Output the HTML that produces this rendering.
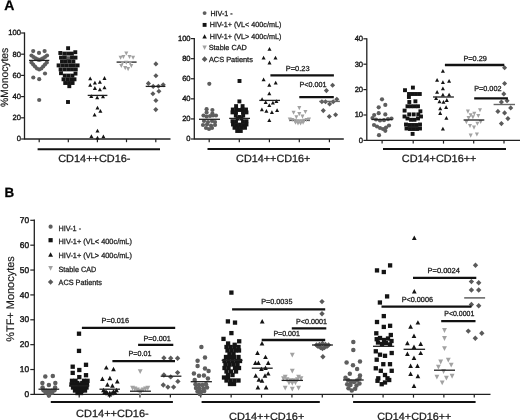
<!DOCTYPE html>
<html><head><meta charset="utf-8"><title>Monocyte subsets figure</title>
<style>
html,body{margin:0;padding:0;background:#fff;}
body{width:520px;height:420px;overflow:hidden;}
svg{display:block;font-family:"Liberation Sans", sans-serif;filter:grayscale(1) blur(0.3px);text-rendering:geometricPrecision;}
text{stroke:#1a1a1a;stroke-width:0.28px;paint-order:stroke;}
</style></head>
<body>
<svg width="520" height="420" viewBox="0 0 520 420">
<rect width="520" height="420" fill="#fff"/>
<text x="4.3" y="10.2" font-size="14" font-weight="bold" fill="#000">A</text>
<text x="4.6" y="197.3" font-size="13.4" font-weight="bold" fill="#000">B</text>
<line x1="24.5" y1="32.4" x2="24.5" y2="139.6" stroke="#202020" stroke-width="1.3"/>
<line x1="21.1" y1="139" x2="24.5" y2="139" stroke="#202020" stroke-width="1.2"/>
<text x="20.9" y="141.36" font-size="7.6" text-anchor="end" fill="#1a1a1a" style="stroke-width:0.38px">0</text>
<line x1="21.1" y1="117.8" x2="24.5" y2="117.8" stroke="#202020" stroke-width="1.2"/>
<text x="20.9" y="120.16" font-size="7.6" text-anchor="end" fill="#1a1a1a" style="stroke-width:0.38px">20</text>
<line x1="21.1" y1="96.6" x2="24.5" y2="96.6" stroke="#202020" stroke-width="1.2"/>
<text x="20.9" y="98.96" font-size="7.6" text-anchor="end" fill="#1a1a1a" style="stroke-width:0.38px">40</text>
<line x1="21.1" y1="75.4" x2="24.5" y2="75.4" stroke="#202020" stroke-width="1.2"/>
<text x="20.9" y="77.76" font-size="7.6" text-anchor="end" fill="#1a1a1a" style="stroke-width:0.38px">60</text>
<line x1="21.1" y1="54.2" x2="24.5" y2="54.2" stroke="#202020" stroke-width="1.2"/>
<text x="20.9" y="56.56" font-size="7.6" text-anchor="end" fill="#1a1a1a" style="stroke-width:0.38px">80</text>
<line x1="21.1" y1="33" x2="24.5" y2="33" stroke="#202020" stroke-width="1.2"/>
<text x="20.9" y="35.36" font-size="7.6" text-anchor="end" fill="#1a1a1a" style="stroke-width:0.38px">100</text>
<line x1="24.5" y1="139" x2="170.5" y2="139" stroke="#202020" stroke-width="1.3"/>
<line x1="39.2" y1="139" x2="39.2" y2="142.2" stroke="#202020" stroke-width="1.2"/>
<line x1="68.3" y1="139" x2="68.3" y2="142.2" stroke="#202020" stroke-width="1.2"/>
<line x1="97.4" y1="139" x2="97.4" y2="142.2" stroke="#202020" stroke-width="1.2"/>
<line x1="126.5" y1="139" x2="126.5" y2="142.2" stroke="#202020" stroke-width="1.2"/>
<line x1="155.8" y1="139" x2="155.8" y2="142.2" stroke="#202020" stroke-width="1.2"/>
<line x1="37.6" y1="149.2" x2="160" y2="149.2" stroke="#111" stroke-width="2.0"/>
<text x="58.2" y="161.5" font-size="10.5" textLength="72.3" lengthAdjust="spacingAndGlyphs" fill="#1a1a1a">CD14++CD16-</text>
<text transform="translate(8.1,106.9) rotate(-90)" font-size="10.6" fill="#1a1a1a" style="stroke-width:0.18px" textLength="59.2" lengthAdjust="spacingAndGlyphs">%Monocytes</text>
<circle cx="33.2" cy="51.1" r="2.1" fill="#5e5e5e"/>
<circle cx="39" cy="52.9" r="2.1" fill="#5e5e5e"/>
<circle cx="44.6" cy="51.1" r="2.1" fill="#5e5e5e"/>
<circle cx="31.5" cy="55.5" r="2.1" fill="#5e5e5e"/>
<circle cx="33.5" cy="57" r="2.1" fill="#5e5e5e"/>
<circle cx="35.5" cy="58.3" r="2.1" fill="#5e5e5e"/>
<circle cx="37.5" cy="59.3" r="2.1" fill="#5e5e5e"/>
<circle cx="39.2" cy="60" r="2.1" fill="#5e5e5e"/>
<circle cx="41" cy="59.3" r="2.1" fill="#5e5e5e"/>
<circle cx="43" cy="58.3" r="2.1" fill="#5e5e5e"/>
<circle cx="45" cy="57" r="2.1" fill="#5e5e5e"/>
<circle cx="47" cy="55.5" r="2.1" fill="#5e5e5e"/>
<circle cx="31.5" cy="62.5" r="2.1" fill="#5e5e5e"/>
<circle cx="33.2" cy="64.5" r="2.1" fill="#5e5e5e"/>
<circle cx="35" cy="66.5" r="2.1" fill="#5e5e5e"/>
<circle cx="37" cy="68.5" r="2.1" fill="#5e5e5e"/>
<circle cx="39.2" cy="69.5" r="2.1" fill="#5e5e5e"/>
<circle cx="41.3" cy="68.5" r="2.1" fill="#5e5e5e"/>
<circle cx="43.2" cy="66.5" r="2.1" fill="#5e5e5e"/>
<circle cx="45" cy="64.5" r="2.1" fill="#5e5e5e"/>
<circle cx="46.8" cy="62.5" r="2.1" fill="#5e5e5e"/>
<circle cx="45" cy="73.5" r="2.1" fill="#5e5e5e"/>
<circle cx="33.3" cy="77.5" r="2.1" fill="#5e5e5e"/>
<circle cx="39.2" cy="79.2" r="2.1" fill="#5e5e5e"/>
<circle cx="39.2" cy="100" r="2.1" fill="#5e5e5e"/>
<line x1="29" y1="60.4" x2="49.3" y2="60.4" stroke="#202020" stroke-width="1.3"/>
<rect x="66.45" y="56.25" width="3.8949999999999996" height="3.8949999999999996" fill="#555"/>
<rect x="66.15" y="46.25" width="3.8949999999999996" height="3.8949999999999996" fill="#141414"/>
<rect x="73.35" y="50.25" width="3.8949999999999996" height="3.8949999999999996" fill="#141414"/>
<rect x="66.05" y="100.05" width="3.8949999999999996" height="3.8949999999999996" fill="#141414"/>
<rect x="59.05" y="71.25" width="3.8949999999999996" height="3.8949999999999996" fill="#141414"/>
<rect x="73.55" y="71.65" width="3.8949999999999996" height="3.8949999999999996" fill="#141414"/>
<rect x="58.35" y="51.05" width="3.8949999999999996" height="3.8949999999999996" fill="#141414"/>
<rect x="62.35" y="51.65" width="3.8949999999999996" height="3.8949999999999996" fill="#141414"/>
<rect x="66.15" y="51.65" width="3.8949999999999996" height="3.8949999999999996" fill="#141414"/>
<rect x="69.95" y="51.65" width="3.8949999999999996" height="3.8949999999999996" fill="#141414"/>
<rect x="59.05" y="55.65" width="3.8949999999999996" height="3.8949999999999996" fill="#141414"/>
<rect x="62.85" y="55.65" width="3.8949999999999996" height="3.8949999999999996" fill="#141414"/>
<rect x="70.05" y="55.65" width="3.8949999999999996" height="3.8949999999999996" fill="#141414"/>
<rect x="73.55" y="55.65" width="3.8949999999999996" height="3.8949999999999996" fill="#141414"/>
<rect x="60.05" y="59.55" width="3.8949999999999996" height="3.8949999999999996" fill="#141414"/>
<rect x="63.85" y="59.55" width="3.8949999999999996" height="3.8949999999999996" fill="#141414"/>
<rect x="67.65" y="59.55" width="3.8949999999999996" height="3.8949999999999996" fill="#141414"/>
<rect x="71.45" y="59.55" width="3.8949999999999996" height="3.8949999999999996" fill="#141414"/>
<rect x="56.65" y="63.45" width="3.8949999999999996" height="3.8949999999999996" fill="#141414"/>
<rect x="60.45" y="63.45" width="3.8949999999999996" height="3.8949999999999996" fill="#141414"/>
<rect x="64.15" y="63.45" width="3.8949999999999996" height="3.8949999999999996" fill="#141414"/>
<rect x="68.15" y="63.45" width="3.8949999999999996" height="3.8949999999999996" fill="#141414"/>
<rect x="71.95" y="63.45" width="3.8949999999999996" height="3.8949999999999996" fill="#141414"/>
<rect x="75.65" y="63.45" width="3.8949999999999996" height="3.8949999999999996" fill="#141414"/>
<rect x="58.65" y="67.45" width="3.8949999999999996" height="3.8949999999999996" fill="#141414"/>
<rect x="62.45" y="67.45" width="3.8949999999999996" height="3.8949999999999996" fill="#141414"/>
<rect x="66.25" y="67.45" width="3.8949999999999996" height="3.8949999999999996" fill="#141414"/>
<rect x="70.05" y="67.45" width="3.8949999999999996" height="3.8949999999999996" fill="#141414"/>
<rect x="73.85" y="67.45" width="3.8949999999999996" height="3.8949999999999996" fill="#141414"/>
<rect x="62.85" y="73.65" width="3.8949999999999996" height="3.8949999999999996" fill="#141414"/>
<rect x="66.65" y="73.65" width="3.8949999999999996" height="3.8949999999999996" fill="#141414"/>
<rect x="70.45" y="73.65" width="3.8949999999999996" height="3.8949999999999996" fill="#141414"/>
<rect x="61.55" y="77.35" width="3.8949999999999996" height="3.8949999999999996" fill="#141414"/>
<rect x="65.35" y="77.35" width="3.8949999999999996" height="3.8949999999999996" fill="#141414"/>
<rect x="69.15" y="77.35" width="3.8949999999999996" height="3.8949999999999996" fill="#141414"/>
<rect x="72.55" y="77.35" width="3.8949999999999996" height="3.8949999999999996" fill="#141414"/>
<rect x="63.25" y="81.05" width="3.8949999999999996" height="3.8949999999999996" fill="#141414"/>
<rect x="67.05" y="81.05" width="3.8949999999999996" height="3.8949999999999996" fill="#141414"/>
<rect x="70.65" y="81.05" width="3.8949999999999996" height="3.8949999999999996" fill="#141414"/>
<rect x="67.35" y="84.25" width="3.8949999999999996" height="3.8949999999999996" fill="#141414"/>
<polygon points="90.2,76.49 92.22,80.32 88.18,80.32" fill="#141414"/>
<polygon points="104.5,76.09 106.52,79.92 102.48,79.92" fill="#141414"/>
<polygon points="94.9,80.79 96.92,84.62 92.88,84.62" fill="#141414"/>
<polygon points="99.9,79.99 101.92,83.82 97.88,83.82" fill="#141414"/>
<polygon points="90.2,82.89 92.22,86.72 88.18,86.72" fill="#141414"/>
<polygon points="94.9,86.09 96.92,89.92 92.88,89.92" fill="#141414"/>
<polygon points="99.9,87.49 101.92,91.32 97.88,91.32" fill="#141414"/>
<polygon points="104.5,85.39 106.52,89.22 102.48,89.22" fill="#141414"/>
<polygon points="91.3,94.19 93.32,98.02 89.28,98.02" fill="#141414"/>
<polygon points="97.2,95.39 99.22,99.22 95.18,99.22" fill="#141414"/>
<polygon points="103,94.39 105.02,98.22 100.98,98.22" fill="#141414"/>
<polygon points="97.5,105.79 99.52,109.62 95.48,109.62" fill="#141414"/>
<polygon points="100.4,108.99 102.42,112.82 98.38,112.82" fill="#141414"/>
<polygon points="94.6,112.69 96.62,116.52 92.58,116.52" fill="#141414"/>
<polygon points="97.5,128.79 99.52,132.62 95.48,132.62" fill="#141414"/>
<polygon points="91.4,134.19 93.42,138.02 89.38,138.02" fill="#141414"/>
<polygon points="97.5,135.79 99.52,139.62 95.48,139.62" fill="#141414"/>
<polygon points="103.4,134.49 105.42,138.32 101.38,138.32" fill="#141414"/>
<line x1="87.7" y1="95.4" x2="107.4" y2="95.4" stroke="#202020" stroke-width="1.3"/>
<line x1="116.6" y1="62.1" x2="136.6" y2="62.1" stroke="#202020" stroke-width="1.3"/>
<polygon points="124.27,51.4 128.32,51.4 126.3,55.45" fill="#a2a2a2"/>
<polygon points="118.57,55.7 122.62,55.7 120.6,59.75" fill="#a2a2a2"/>
<polygon points="121.38,55 125.43,55 123.4,59.05" fill="#a2a2a2"/>
<polygon points="127.47,55 131.53,55 129.5,59.05" fill="#a2a2a2"/>
<polygon points="131.07,55.7 135.12,55.7 133.1,59.75" fill="#a2a2a2"/>
<polygon points="120.38,61.2 124.43,61.2 122.4,65.25" fill="#a2a2a2"/>
<polygon points="128.17,61.2 132.22,61.2 130.2,65.25" fill="#a2a2a2"/>
<polygon points="124.27,60.8 128.32,60.8 126.3,64.85" fill="#a2a2a2"/>
<polygon points="119.27,63.9 123.33,63.9 121.3,67.95" fill="#a2a2a2"/>
<polygon points="129.28,63.9 133.33,63.9 131.3,67.95" fill="#a2a2a2"/>
<polygon points="123.17,66.1 127.23,66.1 125.2,70.15" fill="#a2a2a2"/>
<polygon points="126.07,67.1 130.12,67.1 128.1,71.15" fill="#a2a2a2"/>
<polygon points="155.9,61.35 158.45,63.9 155.9,66.45 153.35,63.9" fill="#5a5a5a"/>
<polygon points="155.9,73.15 158.45,75.7 155.9,78.25 153.35,75.7" fill="#5a5a5a"/>
<polygon points="148.4,80.85 150.95,83.4 148.4,85.95 145.85,83.4" fill="#5a5a5a"/>
<polygon points="163.2,82.25 165.75,84.8 163.2,87.35 160.65,84.8" fill="#5a5a5a"/>
<polygon points="153.2,83.85 155.75,86.4 153.2,88.95 150.65,86.4" fill="#5a5a5a"/>
<polygon points="158.4,83.65 160.95,86.2 158.4,88.75 155.85,86.2" fill="#5a5a5a"/>
<polygon points="158.9,88.65 161.45,91.2 158.9,93.75 156.35,91.2" fill="#5a5a5a"/>
<polygon points="152.9,91.15 155.45,93.7 152.9,96.25 150.35,93.7" fill="#5a5a5a"/>
<polygon points="155.9,97.95 158.45,100.5 155.9,103.05 153.35,100.5" fill="#5a5a5a"/>
<polygon points="155.8,107.05 158.35,109.6 155.8,112.15 153.25,109.6" fill="#5a5a5a"/>
<line x1="145.7" y1="86.4" x2="165.4" y2="86.4" stroke="#202020" stroke-width="1.3"/>
<line x1="194.3" y1="38" x2="194.3" y2="139.6" stroke="#202020" stroke-width="1.3"/>
<line x1="190.9" y1="139" x2="194.3" y2="139" stroke="#202020" stroke-width="1.2"/>
<text x="190.6" y="141.36" font-size="7.6" text-anchor="end" fill="#1a1a1a" style="stroke-width:0.38px">0</text>
<line x1="190.9" y1="118.92" x2="194.3" y2="118.92" stroke="#202020" stroke-width="1.2"/>
<text x="190.6" y="121.28" font-size="7.6" text-anchor="end" fill="#1a1a1a" style="stroke-width:0.38px">20</text>
<line x1="190.9" y1="98.84" x2="194.3" y2="98.84" stroke="#202020" stroke-width="1.2"/>
<text x="190.6" y="101.2" font-size="7.6" text-anchor="end" fill="#1a1a1a" style="stroke-width:0.38px">40</text>
<line x1="190.9" y1="78.76" x2="194.3" y2="78.76" stroke="#202020" stroke-width="1.2"/>
<text x="190.6" y="81.12" font-size="7.6" text-anchor="end" fill="#1a1a1a" style="stroke-width:0.38px">60</text>
<line x1="190.9" y1="58.68" x2="194.3" y2="58.68" stroke="#202020" stroke-width="1.2"/>
<text x="190.6" y="61.04" font-size="7.6" text-anchor="end" fill="#1a1a1a" style="stroke-width:0.38px">80</text>
<line x1="190.9" y1="38.6" x2="194.3" y2="38.6" stroke="#202020" stroke-width="1.2"/>
<text x="190.6" y="40.96" font-size="7.6" text-anchor="end" fill="#1a1a1a" style="stroke-width:0.38px">100</text>
<line x1="194.3" y1="139" x2="343.8" y2="139" stroke="#202020" stroke-width="1.3"/>
<line x1="209.2" y1="139" x2="209.2" y2="142.2" stroke="#202020" stroke-width="1.2"/>
<line x1="239.3" y1="139" x2="239.3" y2="142.2" stroke="#202020" stroke-width="1.2"/>
<line x1="269.4" y1="139" x2="269.4" y2="142.2" stroke="#202020" stroke-width="1.2"/>
<line x1="299.3" y1="139" x2="299.3" y2="142.2" stroke="#202020" stroke-width="1.2"/>
<line x1="329.4" y1="139" x2="329.4" y2="142.2" stroke="#202020" stroke-width="1.2"/>
<line x1="207.5" y1="149" x2="330" y2="149" stroke="#111" stroke-width="2.0"/>
<text x="236.1" y="161.7" font-size="10.5" textLength="74.3" lengthAdjust="spacingAndGlyphs" fill="#1a1a1a">CD14++CD16+</text>
<circle cx="209.3" cy="83.8" r="2.1" fill="#5e5e5e"/>
<circle cx="206.6" cy="109.2" r="2.1" fill="#5e5e5e"/>
<circle cx="212.4" cy="110" r="2.1" fill="#5e5e5e"/>
<circle cx="206.6" cy="112.5" r="2.1" fill="#5e5e5e"/>
<circle cx="212.4" cy="113.5" r="2.1" fill="#5e5e5e"/>
<circle cx="203.5" cy="115.5" r="2.1" fill="#5e5e5e"/>
<circle cx="206.6" cy="116.5" r="2.1" fill="#5e5e5e"/>
<circle cx="210" cy="116" r="2.1" fill="#5e5e5e"/>
<circle cx="213" cy="115.5" r="2.1" fill="#5e5e5e"/>
<circle cx="216" cy="115.5" r="2.1" fill="#5e5e5e"/>
<circle cx="204" cy="121" r="2.1" fill="#5e5e5e"/>
<circle cx="208" cy="122" r="2.1" fill="#5e5e5e"/>
<circle cx="212" cy="121" r="2.1" fill="#5e5e5e"/>
<circle cx="215" cy="122" r="2.1" fill="#5e5e5e"/>
<circle cx="203" cy="125" r="2.1" fill="#5e5e5e"/>
<circle cx="207" cy="124.5" r="2.1" fill="#5e5e5e"/>
<circle cx="211" cy="125.5" r="2.1" fill="#5e5e5e"/>
<circle cx="215" cy="125" r="2.1" fill="#5e5e5e"/>
<circle cx="206" cy="128" r="2.1" fill="#5e5e5e"/>
<circle cx="209" cy="129" r="2.1" fill="#5e5e5e"/>
<circle cx="212" cy="128" r="2.1" fill="#5e5e5e"/>
<line x1="199" y1="119.3" x2="220" y2="119.3" stroke="#202020" stroke-width="1.3"/>
<rect x="237.55" y="79.05" width="3.8949999999999996" height="3.8949999999999996" fill="#141414"/>
<rect x="237.45" y="99.45" width="3.8949999999999996" height="3.8949999999999996" fill="#141414"/>
<rect x="234.15" y="104.15" width="3.8949999999999996" height="3.8949999999999996" fill="#141414"/>
<rect x="240.65" y="104.15" width="3.8949999999999996" height="3.8949999999999996" fill="#141414"/>
<rect x="230.85" y="107.55" width="3.8949999999999996" height="3.8949999999999996" fill="#141414"/>
<rect x="234.35" y="107.55" width="3.8949999999999996" height="3.8949999999999996" fill="#141414"/>
<rect x="237.45" y="108.05" width="3.8949999999999996" height="3.8949999999999996" fill="#141414"/>
<rect x="240.55" y="107.55" width="3.8949999999999996" height="3.8949999999999996" fill="#141414"/>
<rect x="244.05" y="107.55" width="3.8949999999999996" height="3.8949999999999996" fill="#141414"/>
<rect x="230.55" y="110.45" width="3.8949999999999996" height="3.8949999999999996" fill="#141414"/>
<rect x="234.05" y="110.45" width="3.8949999999999996" height="3.8949999999999996" fill="#141414"/>
<rect x="241.05" y="110.45" width="3.8949999999999996" height="3.8949999999999996" fill="#141414"/>
<rect x="244.55" y="110.45" width="3.8949999999999996" height="3.8949999999999996" fill="#141414"/>
<rect x="233.85" y="113.65" width="3.8949999999999996" height="3.8949999999999996" fill="#141414"/>
<rect x="241.25" y="113.65" width="3.8949999999999996" height="3.8949999999999996" fill="#141414"/>
<rect x="237.65" y="115.05" width="3.8949999999999996" height="3.8949999999999996" fill="#141414"/>
<rect x="235.55" y="116.65" width="3.8949999999999996" height="3.8949999999999996" fill="#141414"/>
<rect x="239.55" y="116.65" width="3.8949999999999996" height="3.8949999999999996" fill="#141414"/>
<rect x="230.55" y="119.25" width="3.8949999999999996" height="3.8949999999999996" fill="#141414"/>
<rect x="234.05" y="119.45" width="3.8949999999999996" height="3.8949999999999996" fill="#141414"/>
<rect x="241.05" y="119.45" width="3.8949999999999996" height="3.8949999999999996" fill="#141414"/>
<rect x="244.55" y="119.25" width="3.8949999999999996" height="3.8949999999999996" fill="#141414"/>
<rect x="231.05" y="122.55" width="3.8949999999999996" height="3.8949999999999996" fill="#141414"/>
<rect x="234.55" y="123.05" width="3.8949999999999996" height="3.8949999999999996" fill="#141414"/>
<rect x="238.05" y="122.65" width="3.8949999999999996" height="3.8949999999999996" fill="#141414"/>
<rect x="241.55" y="123.05" width="3.8949999999999996" height="3.8949999999999996" fill="#141414"/>
<rect x="244.55" y="122.55" width="3.8949999999999996" height="3.8949999999999996" fill="#141414"/>
<rect x="232.55" y="125.85" width="3.8949999999999996" height="3.8949999999999996" fill="#141414"/>
<rect x="236.05" y="125.85" width="3.8949999999999996" height="3.8949999999999996" fill="#141414"/>
<rect x="239.55" y="125.85" width="3.8949999999999996" height="3.8949999999999996" fill="#141414"/>
<rect x="243.05" y="125.85" width="3.8949999999999996" height="3.8949999999999996" fill="#141414"/>
<rect x="235.25" y="129.05" width="3.8949999999999996" height="3.8949999999999996" fill="#141414"/>
<rect x="238.85" y="129.05" width="3.8949999999999996" height="3.8949999999999996" fill="#141414"/>
<line x1="229.2" y1="118.4" x2="250" y2="118.4" stroke="#202020" stroke-width="1.3"/>
<polygon points="269.5,46.89 271.52,50.72 267.48,50.72" fill="#141414"/>
<polygon points="263.6,55.79 265.62,59.62 261.58,59.62" fill="#141414"/>
<polygon points="275.5,55.79 277.52,59.62 273.48,59.62" fill="#141414"/>
<polygon points="269.5,60.59 271.52,64.42 267.48,64.42" fill="#141414"/>
<polygon points="263.6,77.49 265.62,81.32 261.58,81.32" fill="#141414"/>
<polygon points="269.3,82.89 271.32,86.72 267.28,86.72" fill="#141414"/>
<polygon points="275.7,80.79 277.72,84.62 273.68,84.62" fill="#141414"/>
<polygon points="269.3,91.49 271.32,95.32 267.28,95.32" fill="#141414"/>
<polygon points="262.1,97.19 264.12,101.02 260.08,101.02" fill="#141414"/>
<polygon points="265.7,100.29 267.72,104.12 263.68,104.12" fill="#141414"/>
<polygon points="272.9,100.79 274.92,104.62 270.88,104.62" fill="#141414"/>
<polygon points="276.4,99.29 278.42,103.12 274.38,103.12" fill="#141414"/>
<polygon points="269.3,103.29 271.32,107.12 267.28,107.12" fill="#141414"/>
<polygon points="261.9,107.49 263.92,111.32 259.88,111.32" fill="#141414"/>
<polygon points="266.4,108.89 268.42,112.72 264.38,112.72" fill="#141414"/>
<polygon points="271.9,110.29 273.92,114.12 269.88,114.12" fill="#141414"/>
<polygon points="277.1,108.29 279.12,112.12 275.08,112.12" fill="#141414"/>
<polygon points="269.3,118.29 271.32,122.12 267.28,122.12" fill="#141414"/>
<line x1="259.3" y1="100.4" x2="280" y2="100.4" stroke="#202020" stroke-width="1.3"/>
<line x1="289" y1="120.4" x2="310" y2="120.4" stroke="#202020" stroke-width="1.3"/>
<polygon points="297.28,106.1 301.32,106.1 299.3,110.15" fill="#a2a2a2"/>
<polygon points="291.58,110.7 295.62,110.7 293.6,114.75" fill="#a2a2a2"/>
<polygon points="297.28,112.1 301.32,112.1 299.3,116.15" fill="#a2a2a2"/>
<polygon points="303.38,110 307.42,110 305.4,114.05" fill="#a2a2a2"/>
<polygon points="294.38,115.3 298.42,115.3 296.4,119.35" fill="#a2a2a2"/>
<polygon points="300.48,114.6 304.52,114.6 302.5,118.65" fill="#a2a2a2"/>
<polygon points="287.78,117.6 291.82,117.6 289.8,121.65" fill="#a2a2a2"/>
<polygon points="290.18,118 294.22,118 292.2,122.05" fill="#a2a2a2"/>
<polygon points="292.58,118.7 296.62,118.7 294.6,122.75" fill="#a2a2a2"/>
<polygon points="294.98,119.4 299.02,119.4 297,123.45" fill="#a2a2a2"/>
<polygon points="297.38,119.7 301.42,119.7 299.4,123.75" fill="#a2a2a2"/>
<polygon points="299.78,119.4 303.82,119.4 301.8,123.45" fill="#a2a2a2"/>
<polygon points="302.18,118.7 306.22,118.7 304.2,122.75" fill="#a2a2a2"/>
<polygon points="304.58,118 308.62,118 306.6,122.05" fill="#a2a2a2"/>
<polygon points="306.98,117.6 311.02,117.6 309,121.65" fill="#a2a2a2"/>
<polygon points="293.48,120.8 297.52,120.8 295.5,124.85" fill="#a2a2a2"/>
<polygon points="295.98,121.4 300.02,121.4 298,125.45" fill="#a2a2a2"/>
<polygon points="298.58,121.4 302.62,121.4 300.6,125.45" fill="#a2a2a2"/>
<polygon points="301.08,120.8 305.12,120.8 303.1,124.85" fill="#a2a2a2"/>
<polygon points="332.6,82.65 335.15,85.2 332.6,87.75 330.05,85.2" fill="#5a5a5a"/>
<polygon points="326.4,88.05 328.95,90.6 326.4,93.15 323.85,90.6" fill="#5a5a5a"/>
<polygon points="321.9,99.15 324.45,101.7 321.9,104.25 319.35,101.7" fill="#5a5a5a"/>
<polygon points="325.5,99.15 328.05,101.7 325.5,104.25 322.95,101.7" fill="#5a5a5a"/>
<polygon points="329.6,101.45 332.15,104 329.6,106.55 327.05,104" fill="#5a5a5a"/>
<polygon points="333.2,99.15 335.75,101.7 333.2,104.25 330.65,101.7" fill="#5a5a5a"/>
<polygon points="336.8,96.75 339.35,99.3 336.8,101.85 334.25,99.3" fill="#5a5a5a"/>
<polygon points="323.3,108.05 325.85,110.6 323.3,113.15 320.75,110.6" fill="#5a5a5a"/>
<polygon points="329.3,113.95 331.85,116.5 329.3,119.05 326.75,116.5" fill="#5a5a5a"/>
<polygon points="335.6,112.25 338.15,114.8 335.6,117.35 333.05,114.8" fill="#5a5a5a"/>
<line x1="319.3" y1="101.4" x2="339.9" y2="101.4" stroke="#666" stroke-width="1.4"/>
<line x1="270.4" y1="75.3" x2="333.9" y2="75.3" stroke="#111" stroke-width="2.3"/>
<text x="285.8" y="70.8" font-size="7.3" textLength="23.8" lengthAdjust="spacingAndGlyphs" fill="#1a1a1a">P=0.23</text>
<line x1="299.3" y1="97.2" x2="333.8" y2="97.2" stroke="#111" stroke-width="2.3"/>
<text x="299.6" y="87.4" font-size="7.3" textLength="26.9" lengthAdjust="spacingAndGlyphs" fill="#1a1a1a">P&lt;0.001</text>
<circle cx="204.6" cy="13.1" r="1.95" fill="#5e5e5e"/>
<text x="210.4" y="15.8" font-size="7.4" textLength="22.2" lengthAdjust="spacingAndGlyphs" fill="#222">HIV-1 -</text>
<rect x="202.65" y="22.95" width="3.9" height="3.9" fill="#141414"/>
<text x="209.7" y="27.3" font-size="7.4" textLength="71.6" lengthAdjust="spacingAndGlyphs" fill="#222">HIV-1+ (VL&lt; 400c/mL)</text>
<polygon points="204.6,34.15 206.85,38.41 202.35,38.41" fill="#141414"/>
<text x="209.7" y="38.8" font-size="7.4" textLength="71.6" lengthAdjust="spacingAndGlyphs" fill="#222">HIV-1+ (VL&gt; 400c/mL)</text>
<polygon points="202.39,45.54 206.81,45.54 204.6,49.95" fill="#a2a2a2"/>
<text x="208.7" y="50.3" font-size="7.4" textLength="38.2" lengthAdjust="spacingAndGlyphs" fill="#222">Stable CAD</text>
<polygon points="204.6,56.34 207.46,59.2 204.6,62.06 201.74,59.2" fill="#5a5a5a"/>
<text x="208.9" y="61.8" font-size="7.4" textLength="44" lengthAdjust="spacingAndGlyphs" fill="#222">ACS Patients</text>
<line x1="366.8" y1="38.2" x2="366.8" y2="141" stroke="#202020" stroke-width="1.3"/>
<line x1="363.4" y1="140.4" x2="366.8" y2="140.4" stroke="#202020" stroke-width="1.2"/>
<text x="363.1" y="142.76" font-size="7.6" text-anchor="end" fill="#1a1a1a" style="stroke-width:0.38px">0</text>
<line x1="363.4" y1="115" x2="366.8" y2="115" stroke="#202020" stroke-width="1.2"/>
<text x="363.1" y="117.36" font-size="7.6" text-anchor="end" fill="#1a1a1a" style="stroke-width:0.38px">10</text>
<line x1="363.4" y1="89.6" x2="366.8" y2="89.6" stroke="#202020" stroke-width="1.2"/>
<text x="363.1" y="91.96" font-size="7.6" text-anchor="end" fill="#1a1a1a" style="stroke-width:0.38px">20</text>
<line x1="363.4" y1="64.2" x2="366.8" y2="64.2" stroke="#202020" stroke-width="1.2"/>
<text x="363.1" y="66.56" font-size="7.6" text-anchor="end" fill="#1a1a1a" style="stroke-width:0.38px">30</text>
<line x1="363.4" y1="38.8" x2="366.8" y2="38.8" stroke="#202020" stroke-width="1.2"/>
<text x="363.1" y="41.16" font-size="7.6" text-anchor="end" fill="#1a1a1a" style="stroke-width:0.38px">40</text>
<line x1="366.8" y1="140.4" x2="520" y2="140.4" stroke="#202020" stroke-width="1.3"/>
<line x1="382.1" y1="140.4" x2="382.1" y2="143.6" stroke="#202020" stroke-width="1.2"/>
<line x1="413.2" y1="140.4" x2="413.2" y2="143.6" stroke="#202020" stroke-width="1.2"/>
<line x1="443.5" y1="140.4" x2="443.5" y2="143.6" stroke="#202020" stroke-width="1.2"/>
<line x1="473.7" y1="140.4" x2="473.7" y2="143.6" stroke="#202020" stroke-width="1.2"/>
<line x1="504" y1="140.4" x2="504" y2="143.6" stroke="#202020" stroke-width="1.2"/>
<line x1="383" y1="149" x2="506" y2="149" stroke="#111" stroke-width="2.0"/>
<text x="401.8" y="162.3" font-size="10.5" textLength="74.6" lengthAdjust="spacingAndGlyphs" fill="#1a1a1a">CD14+CD16++</text>
<circle cx="382" cy="99.3" r="2.1" fill="#5e5e5e"/>
<circle cx="378.7" cy="107.3" r="2.1" fill="#5e5e5e"/>
<circle cx="385.3" cy="104.9" r="2.1" fill="#5e5e5e"/>
<circle cx="378.7" cy="113.2" r="2.1" fill="#5e5e5e"/>
<circle cx="385.3" cy="114.4" r="2.1" fill="#5e5e5e"/>
<circle cx="374.2" cy="115" r="2.1" fill="#5e5e5e"/>
<circle cx="372.5" cy="118" r="2.1" fill="#5e5e5e"/>
<circle cx="376" cy="119.5" r="2.1" fill="#5e5e5e"/>
<circle cx="380" cy="120.5" r="2.1" fill="#5e5e5e"/>
<circle cx="384" cy="120.2" r="2.1" fill="#5e5e5e"/>
<circle cx="388" cy="119.2" r="2.1" fill="#5e5e5e"/>
<circle cx="391.5" cy="118.5" r="2.1" fill="#5e5e5e"/>
<circle cx="374" cy="125" r="2.1" fill="#5e5e5e"/>
<circle cx="377" cy="126.5" r="2.1" fill="#5e5e5e"/>
<circle cx="380" cy="128" r="2.1" fill="#5e5e5e"/>
<circle cx="383" cy="129" r="2.1" fill="#5e5e5e"/>
<circle cx="386" cy="127.5" r="2.1" fill="#5e5e5e"/>
<circle cx="389" cy="125.5" r="2.1" fill="#5e5e5e"/>
<circle cx="385.3" cy="130.8" r="2.1" fill="#5e5e5e"/>
<circle cx="379" cy="135.2" r="2.1" fill="#5e5e5e"/>
<line x1="371.6" y1="119.5" x2="392.4" y2="119.5" stroke="#202020" stroke-width="1.3"/>
<rect x="410.95" y="85.65" width="3.8949999999999996" height="3.8949999999999996" fill="#141414"/>
<rect x="403.05" y="88.25" width="3.8949999999999996" height="3.8949999999999996" fill="#141414"/>
<rect x="407.05" y="92.05" width="3.8949999999999996" height="3.8949999999999996" fill="#141414"/>
<rect x="410.55" y="92.05" width="3.8949999999999996" height="3.8949999999999996" fill="#141414"/>
<rect x="414.05" y="92.05" width="3.8949999999999996" height="3.8949999999999996" fill="#141414"/>
<rect x="417.85" y="92.05" width="3.8949999999999996" height="3.8949999999999996" fill="#141414"/>
<rect x="406.95" y="95.05" width="3.8949999999999996" height="3.8949999999999996" fill="#141414"/>
<rect x="407.35" y="100.05" width="3.8949999999999996" height="3.8949999999999996" fill="#141414"/>
<rect x="413.45" y="99.35" width="3.8949999999999996" height="3.8949999999999996" fill="#141414"/>
<rect x="405.55" y="104.35" width="3.8949999999999996" height="3.8949999999999996" fill="#141414"/>
<rect x="409.05" y="104.35" width="3.8949999999999996" height="3.8949999999999996" fill="#141414"/>
<rect x="412.55" y="104.35" width="3.8949999999999996" height="3.8949999999999996" fill="#141414"/>
<rect x="416.05" y="104.35" width="3.8949999999999996" height="3.8949999999999996" fill="#141414"/>
<rect x="402.65" y="108.65" width="3.8949999999999996" height="3.8949999999999996" fill="#141414"/>
<rect x="418.45" y="109.35" width="3.8949999999999996" height="3.8949999999999996" fill="#141414"/>
<rect x="407.25" y="112.45" width="3.8949999999999996" height="3.8949999999999996" fill="#141414"/>
<rect x="411.75" y="112.45" width="3.8949999999999996" height="3.8949999999999996" fill="#141414"/>
<rect x="416.35" y="112.45" width="3.8949999999999996" height="3.8949999999999996" fill="#141414"/>
<rect x="402.55" y="114.55" width="3.8949999999999996" height="3.8949999999999996" fill="#141414"/>
<rect x="405.55" y="116.55" width="3.8949999999999996" height="3.8949999999999996" fill="#141414"/>
<rect x="409.05" y="117.85" width="3.8949999999999996" height="3.8949999999999996" fill="#141414"/>
<rect x="412.55" y="117.85" width="3.8949999999999996" height="3.8949999999999996" fill="#141414"/>
<rect x="416.05" y="116.55" width="3.8949999999999996" height="3.8949999999999996" fill="#141414"/>
<rect x="419.05" y="114.55" width="3.8949999999999996" height="3.8949999999999996" fill="#141414"/>
<rect x="404.05" y="122.55" width="3.8949999999999996" height="3.8949999999999996" fill="#141414"/>
<rect x="407.55" y="123.05" width="3.8949999999999996" height="3.8949999999999996" fill="#141414"/>
<rect x="411.05" y="123.05" width="3.8949999999999996" height="3.8949999999999996" fill="#141414"/>
<rect x="414.55" y="123.05" width="3.8949999999999996" height="3.8949999999999996" fill="#141414"/>
<rect x="418.05" y="122.55" width="3.8949999999999996" height="3.8949999999999996" fill="#141414"/>
<rect x="404.55" y="126.55" width="3.8949999999999996" height="3.8949999999999996" fill="#141414"/>
<rect x="408.05" y="127.05" width="3.8949999999999996" height="3.8949999999999996" fill="#141414"/>
<rect x="411.55" y="127.05" width="3.8949999999999996" height="3.8949999999999996" fill="#141414"/>
<rect x="415.05" y="127.05" width="3.8949999999999996" height="3.8949999999999996" fill="#141414"/>
<rect x="418.05" y="126.55" width="3.8949999999999996" height="3.8949999999999996" fill="#141414"/>
<rect x="410.65" y="131.95" width="3.8949999999999996" height="3.8949999999999996" fill="#141414"/>
<polygon points="442.9,68.99 444.92,72.82 440.88,72.82" fill="#141414"/>
<polygon points="437.1,77.89 439.12,81.72 435.08,81.72" fill="#141414"/>
<polygon points="442.9,80.19 444.92,84.02 440.88,84.02" fill="#141414"/>
<polygon points="449.1,78.99 451.12,82.82 447.08,82.82" fill="#141414"/>
<polygon points="442.9,86.49 444.92,90.32 440.88,90.32" fill="#141414"/>
<polygon points="437.1,89.99 439.12,93.82 435.08,93.82" fill="#141414"/>
<polygon points="442.9,92.69 444.92,96.52 440.88,96.52" fill="#141414"/>
<polygon points="449.1,92.69 451.12,96.52 447.08,96.52" fill="#141414"/>
<polygon points="436.1,96.29 438.12,100.12 434.08,100.12" fill="#141414"/>
<polygon points="439.5,99.39 441.52,103.22 437.48,103.22" fill="#141414"/>
<polygon points="443.5,99.89 445.52,103.72 441.48,103.72" fill="#141414"/>
<polygon points="446.8,98.09 448.82,101.92 444.78,101.92" fill="#141414"/>
<polygon points="440.2,106.49 442.22,110.32 438.18,110.32" fill="#141414"/>
<polygon points="446.1,105.19 448.12,109.02 444.08,109.02" fill="#141414"/>
<polygon points="440.2,111.09 442.22,114.92 438.18,114.92" fill="#141414"/>
<polygon points="446.4,115.89 448.42,119.72 444.38,119.72" fill="#141414"/>
<polygon points="442.9,126.64 444.92,130.47 440.88,130.47" fill="#141414"/>
<line x1="433" y1="97" x2="453.9" y2="97" stroke="#202020" stroke-width="1.3"/>
<polygon points="465.88,109.6 469.92,109.6 467.9,113.65" fill="#a2a2a2"/>
<polygon points="477.98,108.2 482.02,108.2 480,112.25" fill="#a2a2a2"/>
<polygon points="468.68,113.2 472.72,113.2 470.7,117.25" fill="#a2a2a2"/>
<polygon points="472.28,111.8 476.32,111.8 474.3,115.85" fill="#a2a2a2"/>
<polygon points="476.28,113.9 480.32,113.9 478.3,117.95" fill="#a2a2a2"/>
<polygon points="470.88,115.3 474.92,115.3 472.9,119.35" fill="#a2a2a2"/>
<polygon points="466.58,116.1 470.62,116.1 468.6,120.15" fill="#a2a2a2"/>
<polygon points="464.38,120.3 468.42,120.3 466.4,124.35" fill="#a2a2a2"/>
<polygon points="467.98,123.9 472.02,123.9 470,127.95" fill="#a2a2a2"/>
<polygon points="471.98,125.6 476.02,125.6 474,129.65" fill="#a2a2a2"/>
<polygon points="475.38,121.8 479.42,121.8 477.4,125.85" fill="#a2a2a2"/>
<polygon points="478.68,119.9 482.72,119.9 480.7,123.95" fill="#a2a2a2"/>
<polygon points="468.68,133.6 472.72,133.6 470.7,137.65" fill="#a2a2a2"/>
<polygon points="474.88,132.5 478.92,132.5 476.9,136.55" fill="#a2a2a2"/>
<line x1="463.6" y1="120" x2="484.3" y2="120" stroke="#202020" stroke-width="1.3"/>
<polygon points="504.6,65.25 507.15,67.8 504.6,70.35 502.05,67.8" fill="#5a5a5a"/>
<polygon points="504.6,80.95 507.15,83.5 504.6,86.05 502.05,83.5" fill="#5a5a5a"/>
<polygon points="503.8,91.35 506.35,93.9 503.8,96.45 501.25,93.9" fill="#5a5a5a"/>
<polygon points="501.4,99.55 503.95,102.1 501.4,104.65 498.85,102.1" fill="#5a5a5a"/>
<polygon points="507.1,98.15 509.65,100.7 507.1,103.25 504.55,100.7" fill="#5a5a5a"/>
<polygon points="510.7,105.35 513.25,107.9 510.7,110.45 508.15,107.9" fill="#5a5a5a"/>
<polygon points="497.9,108.85 500.45,111.4 497.9,113.95 495.35,111.4" fill="#5a5a5a"/>
<polygon points="504.6,110.35 507.15,112.9 504.6,115.45 502.05,112.9" fill="#5a5a5a"/>
<polygon points="507.9,116.05 510.45,118.6 507.9,121.15 505.35,118.6" fill="#5a5a5a"/>
<polygon points="501.4,121.05 503.95,123.6 501.4,126.15 498.85,123.6" fill="#5a5a5a"/>
<line x1="493.6" y1="104.5" x2="515" y2="104.5" stroke="#666" stroke-width="1.4"/>
<line x1="444.9" y1="65" x2="504.3" y2="65" stroke="#111" stroke-width="2.3"/>
<text x="463.4" y="61.3" font-size="7.3" textLength="23.5" lengthAdjust="spacingAndGlyphs" fill="#1a1a1a">P=0.29</text>
<line x1="474.2" y1="98.4" x2="507.9" y2="98.4" stroke="#111" stroke-width="2.3"/>
<text x="474.2" y="91.3" font-size="7.3" textLength="27.3" lengthAdjust="spacingAndGlyphs" fill="#1a1a1a">P=0.002</text>
<line x1="34.3" y1="219.5" x2="34.3" y2="395" stroke="#202020" stroke-width="1.3"/>
<line x1="30.3" y1="394.4" x2="34.3" y2="394.4" stroke="#202020" stroke-width="1.2"/>
<text x="29.2" y="397" font-size="8.4" text-anchor="end" fill="#1a1a1a" style="stroke-width:0.45px">0</text>
<line x1="30.3" y1="369.53" x2="34.3" y2="369.53" stroke="#202020" stroke-width="1.2"/>
<text x="29.2" y="372.13" font-size="8.4" text-anchor="end" fill="#1a1a1a" style="stroke-width:0.45px">10</text>
<line x1="30.3" y1="344.66" x2="34.3" y2="344.66" stroke="#202020" stroke-width="1.2"/>
<text x="29.2" y="347.26" font-size="8.4" text-anchor="end" fill="#1a1a1a" style="stroke-width:0.45px">20</text>
<line x1="30.3" y1="319.79" x2="34.3" y2="319.79" stroke="#202020" stroke-width="1.2"/>
<text x="29.2" y="322.39" font-size="8.4" text-anchor="end" fill="#1a1a1a" style="stroke-width:0.45px">30</text>
<line x1="30.3" y1="294.92" x2="34.3" y2="294.92" stroke="#202020" stroke-width="1.2"/>
<text x="29.2" y="297.52" font-size="8.4" text-anchor="end" fill="#1a1a1a" style="stroke-width:0.45px">40</text>
<line x1="30.3" y1="270.05" x2="34.3" y2="270.05" stroke="#202020" stroke-width="1.2"/>
<text x="29.2" y="272.65" font-size="8.4" text-anchor="end" fill="#1a1a1a" style="stroke-width:0.45px">50</text>
<line x1="30.3" y1="245.18" x2="34.3" y2="245.18" stroke="#202020" stroke-width="1.2"/>
<text x="29.2" y="247.78" font-size="8.4" text-anchor="end" fill="#1a1a1a" style="stroke-width:0.45px">60</text>
<line x1="30.3" y1="220.31" x2="34.3" y2="220.31" stroke="#202020" stroke-width="1.2"/>
<text x="29.2" y="222.91" font-size="8.4" text-anchor="end" fill="#1a1a1a" style="stroke-width:0.45px">70</text>
<line x1="34.3" y1="394.4" x2="490.5" y2="394.4" stroke="#202020" stroke-width="1.3"/>
<line x1="48.8" y1="394.4" x2="48.8" y2="397.6" stroke="#202020" stroke-width="1.2"/>
<line x1="79.19" y1="394.4" x2="79.19" y2="397.6" stroke="#202020" stroke-width="1.2"/>
<line x1="109.58" y1="394.4" x2="109.58" y2="397.6" stroke="#202020" stroke-width="1.2"/>
<line x1="139.97" y1="394.4" x2="139.97" y2="397.6" stroke="#202020" stroke-width="1.2"/>
<line x1="170.36" y1="394.4" x2="170.36" y2="397.6" stroke="#202020" stroke-width="1.2"/>
<line x1="200.75" y1="394.4" x2="200.75" y2="397.6" stroke="#202020" stroke-width="1.2"/>
<line x1="231.14" y1="394.4" x2="231.14" y2="397.6" stroke="#202020" stroke-width="1.2"/>
<line x1="261.53" y1="394.4" x2="261.53" y2="397.6" stroke="#202020" stroke-width="1.2"/>
<line x1="291.92" y1="394.4" x2="291.92" y2="397.6" stroke="#202020" stroke-width="1.2"/>
<line x1="322.31" y1="394.4" x2="322.31" y2="397.6" stroke="#202020" stroke-width="1.2"/>
<line x1="352.7" y1="394.4" x2="352.7" y2="397.6" stroke="#202020" stroke-width="1.2"/>
<line x1="383.09" y1="394.4" x2="383.09" y2="397.6" stroke="#202020" stroke-width="1.2"/>
<line x1="413.48" y1="394.4" x2="413.48" y2="397.6" stroke="#202020" stroke-width="1.2"/>
<line x1="443.87" y1="394.4" x2="443.87" y2="397.6" stroke="#202020" stroke-width="1.2"/>
<line x1="474.26" y1="394.4" x2="474.26" y2="397.6" stroke="#202020" stroke-width="1.2"/>
<line x1="50.8" y1="402" x2="172.9" y2="402" stroke="#111" stroke-width="2.0"/>
<line x1="201.6" y1="402" x2="319.8" y2="402" stroke="#111" stroke-width="2.0"/>
<line x1="353.1" y1="402" x2="475.6" y2="402" stroke="#111" stroke-width="2.0"/>
<text x="76.1" y="416.7" font-size="10.5" textLength="72.6" lengthAdjust="spacingAndGlyphs" fill="#1a1a1a">CD14++CD16-</text>
<text x="229" y="420.1" font-size="10.5" textLength="75.4" lengthAdjust="spacingAndGlyphs" fill="#1a1a1a">CD14++CD16+</text>
<text x="377.3" y="419.7" font-size="10.5" textLength="74" lengthAdjust="spacingAndGlyphs" fill="#1a1a1a">CD14+CD16++</text>
<text transform="translate(13.7,341.8) rotate(-90)" font-size="11" fill="#1a1a1a" style="stroke-width:0.18px" textLength="85.6" lengthAdjust="spacingAndGlyphs">%TF+ Monocytes</text>
<circle cx="50.6" cy="226.7" r="2.1" fill="#5e5e5e"/>
<text x="58.5" y="230.8" font-size="7.6" textLength="22.6" lengthAdjust="spacingAndGlyphs" fill="#222">HIV-1 -</text>
<rect x="48.5" y="238.1" width="4.2" height="4.2" fill="#141414"/>
<text x="58.5" y="244.4" font-size="7.6" textLength="73.4" lengthAdjust="spacingAndGlyphs" fill="#222">HIV-1+ (VL&lt; 400c/mL)</text>
<polygon points="50.6,252.28 53.02,256.85 48.19,256.85" fill="#141414"/>
<text x="58.5" y="258.1" font-size="7.6" textLength="73.4" lengthAdjust="spacingAndGlyphs" fill="#222">HIV-1+ (VL&gt; 400c/mL)</text>
<polygon points="48.24,266 52.96,266 50.6,270.73" fill="#a2a2a2"/>
<text x="58.5" y="271.8" font-size="7.6" textLength="37.7" lengthAdjust="spacingAndGlyphs" fill="#222">Stable CAD</text>
<polygon points="50.6,279.17 53.33,281.9 50.6,284.63 47.87,281.9" fill="#5a5a5a"/>
<text x="58.5" y="285.2" font-size="7.6" textLength="43.5" lengthAdjust="spacingAndGlyphs" fill="#222">ACS Patients</text>
<circle cx="45.3" cy="376.4" r="2.2470000000000003" fill="#5e5e5e"/>
<circle cx="52.8" cy="376.1" r="2.2470000000000003" fill="#5e5e5e"/>
<circle cx="42.4" cy="382.9" r="2.2470000000000003" fill="#5e5e5e"/>
<circle cx="48.9" cy="385" r="2.2470000000000003" fill="#5e5e5e"/>
<circle cx="55.3" cy="382.9" r="2.2470000000000003" fill="#5e5e5e"/>
<circle cx="42.6" cy="387.4" r="2.2470000000000003" fill="#5e5e5e"/>
<circle cx="55.1" cy="387.4" r="2.2470000000000003" fill="#5e5e5e"/>
<circle cx="43.5" cy="390.2" r="2.2470000000000003" fill="#5e5e5e"/>
<circle cx="46.3" cy="390.8" r="2.2470000000000003" fill="#5e5e5e"/>
<circle cx="49" cy="391" r="2.2470000000000003" fill="#5e5e5e"/>
<circle cx="51.8" cy="390.8" r="2.2470000000000003" fill="#5e5e5e"/>
<circle cx="54.5" cy="390.2" r="2.2470000000000003" fill="#5e5e5e"/>
<circle cx="45.6" cy="392.8" r="2.2470000000000003" fill="#5e5e5e"/>
<circle cx="48.9" cy="393.5" r="2.2470000000000003" fill="#5e5e5e"/>
<circle cx="52.2" cy="392.8" r="2.2470000000000003" fill="#5e5e5e"/>
<circle cx="48.9" cy="395.4" r="2.2470000000000003" fill="#5e5e5e"/>
<line x1="38.5" y1="389.2" x2="59.2" y2="389.2" stroke="#202020" stroke-width="1.3"/>
<rect x="76.85" y="331.55" width="4.305" height="4.305" fill="#141414"/>
<rect x="76.85" y="348.75" width="4.305" height="4.305" fill="#141414"/>
<rect x="70.55" y="364.55" width="4.305" height="4.305" fill="#141414"/>
<rect x="83.85" y="362.65" width="4.305" height="4.305" fill="#141414"/>
<rect x="77.15" y="367.85" width="4.305" height="4.305" fill="#141414"/>
<rect x="70.55" y="370.75" width="4.305" height="4.305" fill="#141414"/>
<rect x="83.85" y="373.05" width="4.305" height="4.305" fill="#141414"/>
<rect x="77.15" y="374.95" width="4.305" height="4.305" fill="#141414"/>
<rect x="69.85" y="378.65" width="4.305" height="4.305" fill="#141414"/>
<rect x="73.35" y="378.65" width="4.305" height="4.305" fill="#141414"/>
<rect x="81.85" y="378.65" width="4.305" height="4.305" fill="#141414"/>
<rect x="85.35" y="378.65" width="4.305" height="4.305" fill="#141414"/>
<rect x="75.15" y="380.85" width="4.305" height="4.305" fill="#141414"/>
<rect x="80.15" y="380.85" width="4.305" height="4.305" fill="#141414"/>
<rect x="69.35" y="382.35" width="4.305" height="4.305" fill="#141414"/>
<rect x="72.85" y="382.35" width="4.305" height="4.305" fill="#141414"/>
<rect x="76.85" y="382.35" width="4.305" height="4.305" fill="#141414"/>
<rect x="80.85" y="382.35" width="4.305" height="4.305" fill="#141414"/>
<rect x="84.85" y="382.35" width="4.305" height="4.305" fill="#141414"/>
<rect x="70.85" y="385.35" width="4.305" height="4.305" fill="#141414"/>
<rect x="74.35" y="385.35" width="4.305" height="4.305" fill="#141414"/>
<rect x="77.85" y="385.35" width="4.305" height="4.305" fill="#141414"/>
<rect x="81.35" y="385.35" width="4.305" height="4.305" fill="#141414"/>
<rect x="84.35" y="385.35" width="4.305" height="4.305" fill="#141414"/>
<rect x="72.85" y="388.35" width="4.305" height="4.305" fill="#141414"/>
<rect x="76.35" y="388.35" width="4.305" height="4.305" fill="#141414"/>
<rect x="79.85" y="388.35" width="4.305" height="4.305" fill="#141414"/>
<rect x="82.85" y="388.35" width="4.305" height="4.305" fill="#141414"/>
<rect x="75.35" y="390.85" width="4.305" height="4.305" fill="#141414"/>
<rect x="78.85" y="390.85" width="4.305" height="4.305" fill="#141414"/>
<line x1="69.2" y1="385.8" x2="89.2" y2="385.8" stroke="#202020" stroke-width="1.3"/>
<polygon points="106.3,365.15 108.65,369.59 103.95,369.59" fill="#141414"/>
<polygon points="113.5,366.85 115.85,371.29 111.15,371.29" fill="#141414"/>
<polygon points="102.4,376.45 104.75,380.89 100.05,380.89" fill="#141414"/>
<polygon points="109.9,375.85 112.25,380.29 107.55,380.29" fill="#141414"/>
<polygon points="117.3,378.95 119.65,383.39 114.95,383.39" fill="#141414"/>
<polygon points="107.4,382.35 109.75,386.79 105.05,386.79" fill="#141414"/>
<polygon points="112.4,383.25 114.75,387.69 110.05,387.69" fill="#141414"/>
<polygon points="103.5,387.75 105.85,392.19 101.15,392.19" fill="#141414"/>
<polygon points="116.5,387.75 118.85,392.19 114.15,392.19" fill="#141414"/>
<polygon points="106,389.15 108.35,393.59 103.65,393.59" fill="#141414"/>
<polygon points="109.8,390.45 112.15,394.89 107.45,394.89" fill="#141414"/>
<polygon points="113.5,389.15 115.85,393.59 111.15,393.59" fill="#141414"/>
<polygon points="104.5,389.95 106.85,394.39 102.15,394.39" fill="#141414"/>
<polygon points="115,389.95 117.35,394.39 112.65,394.39" fill="#141414"/>
<polygon points="107.5,390.85 109.85,395.29 105.15,395.29" fill="#141414"/>
<polygon points="112,390.85 114.35,395.29 109.65,395.29" fill="#141414"/>
<polygon points="109.8,391.95 112.15,396.39 107.45,396.39" fill="#141414"/>
<line x1="99.5" y1="389.2" x2="120" y2="389.2" stroke="#202020" stroke-width="1.3"/>
<polygon points="137.77,369.24 142.63,369.24 140.2,374.1" fill="#a2a2a2"/>
<polygon points="130.17,385.84 135.03,385.84 132.6,390.7" fill="#a2a2a2"/>
<polygon points="132.47,386.54 137.33,386.54 134.9,391.4" fill="#a2a2a2"/>
<polygon points="134.87,387.54 139.73,387.54 137.3,392.4" fill="#a2a2a2"/>
<polygon points="136.97,388.74 141.83,388.74 139.4,393.6" fill="#a2a2a2"/>
<polygon points="138.57,388.74 143.43,388.74 141,393.6" fill="#a2a2a2"/>
<polygon points="140.67,387.54 145.53,387.54 143.1,392.4" fill="#a2a2a2"/>
<polygon points="143.07,386.54 147.93,386.54 145.5,391.4" fill="#a2a2a2"/>
<polygon points="145.37,385.84 150.23,385.84 147.8,390.7" fill="#a2a2a2"/>
<polygon points="137.77,390.84 142.63,390.84 140.2,395.7" fill="#a2a2a2"/>
<line x1="130" y1="391.2" x2="150.9" y2="391.2" stroke="#202020" stroke-width="1.3"/>
<polygon points="163.9,355.22 166.58,357.9 163.9,360.58 161.22,357.9" fill="#5a5a5a"/>
<polygon points="170.7,355.62 173.38,358.3 170.7,360.98 168.02,358.3" fill="#5a5a5a"/>
<polygon points="177.6,355.62 180.28,358.3 177.6,360.98 174.92,358.3" fill="#5a5a5a"/>
<polygon points="177.6,369.92 180.28,372.6 177.6,375.28 174.92,372.6" fill="#5a5a5a"/>
<polygon points="163.9,372.32 166.58,375 163.9,377.68 161.22,375" fill="#5a5a5a"/>
<polygon points="170.7,374.22 173.38,376.9 170.7,379.58 168.02,376.9" fill="#5a5a5a"/>
<polygon points="177.9,378.72 180.58,381.4 177.9,384.08 175.22,381.4" fill="#5a5a5a"/>
<polygon points="163.3,382.32 165.98,385 163.3,387.68 160.62,385" fill="#5a5a5a"/>
<polygon points="167.9,384.42 170.58,387.1 167.9,389.78 165.22,387.1" fill="#5a5a5a"/>
<polygon points="173.6,384.42 176.28,387.1 173.6,389.78 170.92,387.1" fill="#5a5a5a"/>
<line x1="160.7" y1="376.2" x2="181.4" y2="376.2" stroke="#202020" stroke-width="1.3"/>
<line x1="81.9" y1="327.9" x2="175.2" y2="327.9" stroke="#111" stroke-width="2.3"/>
<text x="101.5" y="323.1" font-size="7.3" textLength="27.5" lengthAdjust="spacingAndGlyphs" fill="#1a1a1a">P=0.016</text>
<line x1="138.1" y1="344.9" x2="173.3" y2="344.9" stroke="#111" stroke-width="2.3"/>
<text x="143.5" y="340.9" font-size="7.3" textLength="27.3" lengthAdjust="spacingAndGlyphs" fill="#1a1a1a">P=0.001</text>
<line x1="112.4" y1="361.1" x2="175" y2="361.1" stroke="#111" stroke-width="2.3"/>
<text x="128.6" y="356.4" font-size="7.3" textLength="22.8" lengthAdjust="spacingAndGlyphs" fill="#1a1a1a">P=0.01</text>
<circle cx="201.4" cy="347.1" r="2.2470000000000003" fill="#5e5e5e"/>
<circle cx="205" cy="357.4" r="2.2470000000000003" fill="#5e5e5e"/>
<circle cx="197.6" cy="360.7" r="2.2470000000000003" fill="#5e5e5e"/>
<circle cx="197.6" cy="366" r="2.2470000000000003" fill="#5e5e5e"/>
<circle cx="205" cy="368.6" r="2.2470000000000003" fill="#5e5e5e"/>
<circle cx="208.6" cy="371.1" r="2.2470000000000003" fill="#5e5e5e"/>
<circle cx="193.9" cy="373.6" r="2.2470000000000003" fill="#5e5e5e"/>
<circle cx="199" cy="375.7" r="2.2470000000000003" fill="#5e5e5e"/>
<circle cx="203.9" cy="375.4" r="2.2470000000000003" fill="#5e5e5e"/>
<circle cx="207.9" cy="378.6" r="2.2470000000000003" fill="#5e5e5e"/>
<circle cx="194.7" cy="380" r="2.2470000000000003" fill="#5e5e5e"/>
<circle cx="195.5" cy="384.3" r="2.2470000000000003" fill="#5e5e5e"/>
<circle cx="199" cy="385" r="2.2470000000000003" fill="#5e5e5e"/>
<circle cx="202.5" cy="385" r="2.2470000000000003" fill="#5e5e5e"/>
<circle cx="206" cy="384.3" r="2.2470000000000003" fill="#5e5e5e"/>
<circle cx="196" cy="388" r="2.2470000000000003" fill="#5e5e5e"/>
<circle cx="199.5" cy="388.8" r="2.2470000000000003" fill="#5e5e5e"/>
<circle cx="203.5" cy="388.5" r="2.2470000000000003" fill="#5e5e5e"/>
<circle cx="207" cy="387.5" r="2.2470000000000003" fill="#5e5e5e"/>
<circle cx="197.5" cy="391.5" r="2.2470000000000003" fill="#5e5e5e"/>
<circle cx="201" cy="392" r="2.2470000000000003" fill="#5e5e5e"/>
<circle cx="204.2" cy="391" r="2.2470000000000003" fill="#5e5e5e"/>
<circle cx="199.8" cy="394" r="2.2470000000000003" fill="#5e5e5e"/>
<line x1="190.7" y1="381.7" x2="211.9" y2="381.7" stroke="#202020" stroke-width="1.3"/>
<rect x="229.25" y="290.45" width="4.305" height="4.305" fill="#141414"/>
<rect x="225.75" y="319.25" width="4.305" height="4.305" fill="#141414"/>
<rect x="232.85" y="320.45" width="4.305" height="4.305" fill="#141414"/>
<rect x="229.25" y="330.95" width="4.305" height="4.305" fill="#141414"/>
<rect x="221.35" y="336.75" width="4.305" height="4.305" fill="#141414"/>
<rect x="237.05" y="339.15" width="4.305" height="4.305" fill="#141414"/>
<rect x="225.95" y="341.35" width="4.305" height="4.305" fill="#141414"/>
<rect x="232.55" y="342.65" width="4.305" height="4.305" fill="#141414"/>
<rect x="224.35" y="344.85" width="4.305" height="4.305" fill="#141414"/>
<rect x="228.35" y="344.85" width="4.305" height="4.305" fill="#141414"/>
<rect x="232.35" y="344.85" width="4.305" height="4.305" fill="#141414"/>
<rect x="236.35" y="344.85" width="4.305" height="4.305" fill="#141414"/>
<rect x="225.35" y="348.35" width="4.305" height="4.305" fill="#141414"/>
<rect x="229.35" y="348.35" width="4.305" height="4.305" fill="#141414"/>
<rect x="233.35" y="348.35" width="4.305" height="4.305" fill="#141414"/>
<rect x="236.85" y="348.35" width="4.305" height="4.305" fill="#141414"/>
<rect x="227.35" y="351.85" width="4.305" height="4.305" fill="#141414"/>
<rect x="231.35" y="351.85" width="4.305" height="4.305" fill="#141414"/>
<rect x="223.85" y="354.85" width="4.305" height="4.305" fill="#141414"/>
<rect x="227.85" y="354.85" width="4.305" height="4.305" fill="#141414"/>
<rect x="231.85" y="354.85" width="4.305" height="4.305" fill="#141414"/>
<rect x="236.35" y="354.85" width="4.305" height="4.305" fill="#141414"/>
<rect x="222.35" y="358.85" width="4.305" height="4.305" fill="#141414"/>
<rect x="226.35" y="358.85" width="4.305" height="4.305" fill="#141414"/>
<rect x="230.35" y="358.85" width="4.305" height="4.305" fill="#141414"/>
<rect x="234.35" y="358.85" width="4.305" height="4.305" fill="#141414"/>
<rect x="237.85" y="358.85" width="4.305" height="4.305" fill="#141414"/>
<rect x="223.35" y="362.35" width="4.305" height="4.305" fill="#141414"/>
<rect x="227.35" y="362.35" width="4.305" height="4.305" fill="#141414"/>
<rect x="231.35" y="362.35" width="4.305" height="4.305" fill="#141414"/>
<rect x="235.35" y="362.35" width="4.305" height="4.305" fill="#141414"/>
<rect x="222.35" y="365.85" width="4.305" height="4.305" fill="#141414"/>
<rect x="226.35" y="365.85" width="4.305" height="4.305" fill="#141414"/>
<rect x="232.85" y="365.85" width="4.305" height="4.305" fill="#141414"/>
<rect x="236.85" y="365.85" width="4.305" height="4.305" fill="#141414"/>
<rect x="224.35" y="369.35" width="4.305" height="4.305" fill="#141414"/>
<rect x="228.85" y="369.35" width="4.305" height="4.305" fill="#141414"/>
<rect x="233.85" y="369.35" width="4.305" height="4.305" fill="#141414"/>
<rect x="225.85" y="372.85" width="4.305" height="4.305" fill="#141414"/>
<rect x="230.35" y="372.85" width="4.305" height="4.305" fill="#141414"/>
<rect x="221.85" y="375.35" width="4.305" height="4.305" fill="#141414"/>
<rect x="225.85" y="375.35" width="4.305" height="4.305" fill="#141414"/>
<rect x="224.35" y="378.35" width="4.305" height="4.305" fill="#141414"/>
<rect x="228.35" y="378.35" width="4.305" height="4.305" fill="#141414"/>
<rect x="232.35" y="378.35" width="4.305" height="4.305" fill="#141414"/>
<rect x="236.35" y="378.35" width="4.305" height="4.305" fill="#141414"/>
<rect x="227.85" y="381.85" width="4.305" height="4.305" fill="#141414"/>
<rect x="231.85" y="381.85" width="4.305" height="4.305" fill="#141414"/>
<line x1="221.6" y1="360.3" x2="242.5" y2="360.3" stroke="#202020" stroke-width="1.3"/>
<polygon points="262.2,319.05 264.55,323.49 259.85,323.49" fill="#141414"/>
<polygon points="262,341.05 264.35,345.49 259.65,345.49" fill="#141414"/>
<polygon points="257.5,350.55 259.85,354.99 255.15,354.99" fill="#141414"/>
<polygon points="265.5,354.65 267.85,359.09 263.15,359.09" fill="#141414"/>
<polygon points="255.4,360.45 257.75,364.89 253.05,364.89" fill="#141414"/>
<polygon points="258.4,360.45 260.75,364.89 256.05,364.89" fill="#141414"/>
<polygon points="268.2,360.45 270.55,364.89 265.85,364.89" fill="#141414"/>
<polygon points="261.4,366.65 263.75,371.09 259.05,371.09" fill="#141414"/>
<polygon points="265.5,365.45 267.85,369.89 263.15,369.89" fill="#141414"/>
<polygon points="255.7,373.25 258.05,377.69 253.35,377.69" fill="#141414"/>
<polygon points="265,373.25 267.35,377.69 262.65,377.69" fill="#141414"/>
<polygon points="268.2,371.15 270.55,375.59 265.85,375.59" fill="#141414"/>
<polygon points="258.9,377.35 261.25,381.79 256.55,381.79" fill="#141414"/>
<polygon points="262,378.25 264.35,382.69 259.65,382.69" fill="#141414"/>
<polygon points="257.9,385.05 260.25,389.49 255.55,389.49" fill="#141414"/>
<polygon points="266.1,385.05 268.45,389.49 263.75,389.49" fill="#141414"/>
<line x1="251.8" y1="368.2" x2="272.7" y2="368.2" stroke="#202020" stroke-width="1.3"/>
<polygon points="289.87,352.64 294.73,352.64 292.3,357.5" fill="#a2a2a2"/>
<polygon points="289.87,368.74 294.73,368.74 292.3,373.6" fill="#a2a2a2"/>
<polygon points="282.77,374.64 287.63,374.64 285.2,379.5" fill="#a2a2a2"/>
<polygon points="296.17,374.64 301.03,374.64 298.6,379.5" fill="#a2a2a2"/>
<polygon points="281.07,376.34 285.93,376.34 283.5,381.2" fill="#a2a2a2"/>
<polygon points="284.57,377.34 289.43,377.34 287,382.2" fill="#a2a2a2"/>
<polygon points="288.07,378.34 292.93,378.34 290.5,383.2" fill="#a2a2a2"/>
<polygon points="291.57,378.34 296.43,378.34 294,383.2" fill="#a2a2a2"/>
<polygon points="295.07,377.34 299.93,377.34 297.5,382.2" fill="#a2a2a2"/>
<polygon points="298.57,376.34 303.43,376.34 301,381.2" fill="#a2a2a2"/>
<polygon points="286.57,380.34 291.43,380.34 289,385.2" fill="#a2a2a2"/>
<polygon points="289.87,380.84 294.73,380.84 292.3,385.7" fill="#a2a2a2"/>
<polygon points="293.07,380.34 297.93,380.34 295.5,385.2" fill="#a2a2a2"/>
<polygon points="282.77,385.74 287.63,385.74 285.2,390.6" fill="#a2a2a2"/>
<polygon points="289.87,386.64 294.73,386.64 292.3,391.5" fill="#a2a2a2"/>
<polygon points="296.17,385.74 301.03,385.74 298.6,390.6" fill="#a2a2a2"/>
<line x1="281.6" y1="380.4" x2="303" y2="380.4" stroke="#202020" stroke-width="1.3"/>
<polygon points="322,298.92 324.68,301.6 322,304.28 319.32,301.6" fill="#5a5a5a"/>
<polygon points="322,311.02 324.68,313.7 322,316.38 319.32,313.7" fill="#5a5a5a"/>
<polygon points="316.5,342.32 319.18,345 316.5,347.68 313.82,345" fill="#5a5a5a"/>
<polygon points="319.5,341.82 322.18,344.5 319.5,347.18 316.82,344.5" fill="#5a5a5a"/>
<polygon points="322.5,340.82 325.18,343.5 322.5,346.18 319.82,343.5" fill="#5a5a5a"/>
<polygon points="325.5,341.82 328.18,344.5 325.5,347.18 322.82,344.5" fill="#5a5a5a"/>
<polygon points="328.5,342.32 331.18,345 328.5,347.68 325.82,345" fill="#5a5a5a"/>
<polygon points="320.5,344.82 323.18,347.5 320.5,350.18 317.82,347.5" fill="#5a5a5a"/>
<polygon points="324.5,344.82 327.18,347.5 324.5,350.18 321.82,347.5" fill="#5a5a5a"/>
<polygon points="318,343.62 320.68,346.3 318,348.98 315.32,346.3" fill="#5a5a5a"/>
<polygon points="327,343.62 329.68,346.3 327,348.98 324.32,346.3" fill="#5a5a5a"/>
<polygon points="322.5,345.92 325.18,348.6 322.5,351.28 319.82,348.6" fill="#5a5a5a"/>
<polygon points="322.9,354.02 325.58,356.7 322.9,359.38 320.22,356.7" fill="#5a5a5a"/>
<line x1="312" y1="345" x2="332.9" y2="345" stroke="#202020" stroke-width="1.3"/>
<line x1="232.1" y1="309.3" x2="325.2" y2="309.3" stroke="#111" stroke-width="2.3"/>
<text x="261.3" y="304.2" font-size="7.3" textLength="31.1" lengthAdjust="spacingAndGlyphs" fill="#1a1a1a">P=0.0035</text>
<line x1="291.8" y1="328.4" x2="326.3" y2="328.4" stroke="#111" stroke-width="2.3"/>
<text x="296" y="323.7" font-size="7.3" textLength="30.9" lengthAdjust="spacingAndGlyphs" fill="#1a1a1a">P&lt;0.0001</text>
<line x1="261.7" y1="340" x2="325.2" y2="340" stroke="#111" stroke-width="2.3"/>
<text x="273.4" y="335.9" font-size="7.3" textLength="26.4" lengthAdjust="spacingAndGlyphs" fill="#1a1a1a">P=0.001</text>
<circle cx="353.3" cy="342" r="2.2470000000000003" fill="#5e5e5e"/>
<circle cx="353.3" cy="350" r="2.2470000000000003" fill="#5e5e5e"/>
<circle cx="346.6" cy="362.5" r="2.2470000000000003" fill="#5e5e5e"/>
<circle cx="360" cy="361.6" r="2.2470000000000003" fill="#5e5e5e"/>
<circle cx="353" cy="365.2" r="2.2470000000000003" fill="#5e5e5e"/>
<circle cx="357.1" cy="368.9" r="2.2470000000000003" fill="#5e5e5e"/>
<circle cx="349.8" cy="373.8" r="2.2470000000000003" fill="#5e5e5e"/>
<circle cx="360" cy="375.4" r="2.2470000000000003" fill="#5e5e5e"/>
<circle cx="345.5" cy="377.8" r="2.2470000000000003" fill="#5e5e5e"/>
<circle cx="348" cy="380" r="2.2470000000000003" fill="#5e5e5e"/>
<circle cx="351" cy="381.8" r="2.2470000000000003" fill="#5e5e5e"/>
<circle cx="354" cy="382" r="2.2470000000000003" fill="#5e5e5e"/>
<circle cx="357" cy="380.5" r="2.2470000000000003" fill="#5e5e5e"/>
<circle cx="359.5" cy="378.5" r="2.2470000000000003" fill="#5e5e5e"/>
<circle cx="347.2" cy="384.3" r="2.2470000000000003" fill="#5e5e5e"/>
<circle cx="350.5" cy="385" r="2.2470000000000003" fill="#5e5e5e"/>
<circle cx="356.5" cy="385.5" r="2.2470000000000003" fill="#5e5e5e"/>
<circle cx="359.5" cy="383.5" r="2.2470000000000003" fill="#5e5e5e"/>
<circle cx="348.5" cy="388.2" r="2.2470000000000003" fill="#5e5e5e"/>
<circle cx="355.2" cy="388.8" r="2.2470000000000003" fill="#5e5e5e"/>
<circle cx="351.8" cy="390.6" r="2.2470000000000003" fill="#5e5e5e"/>
<line x1="343" y1="380" x2="363.7" y2="380" stroke="#202020" stroke-width="1.3"/>
<rect x="387.95" y="263.25" width="4.305" height="4.305" fill="#141414"/>
<rect x="374.85" y="268.25" width="4.305" height="4.305" fill="#141414"/>
<rect x="381.65" y="269.85" width="4.305" height="4.305" fill="#141414"/>
<rect x="384.95" y="294.25" width="4.305" height="4.305" fill="#141414"/>
<rect x="377.75" y="300.35" width="4.305" height="4.305" fill="#141414"/>
<rect x="381.65" y="313.95" width="4.305" height="4.305" fill="#141414"/>
<rect x="374.85" y="319.85" width="4.305" height="4.305" fill="#141414"/>
<rect x="381.65" y="324.75" width="4.305" height="4.305" fill="#141414"/>
<rect x="387.95" y="323.65" width="4.305" height="4.305" fill="#141414"/>
<rect x="374.15" y="331.15" width="4.305" height="4.305" fill="#141414"/>
<rect x="388.65" y="332.85" width="4.305" height="4.305" fill="#141414"/>
<rect x="374.55" y="337.05" width="4.305" height="4.305" fill="#141414"/>
<rect x="377.85" y="335.85" width="4.305" height="4.305" fill="#141414"/>
<rect x="381.85" y="337.85" width="4.305" height="4.305" fill="#141414"/>
<rect x="385.85" y="336.35" width="4.305" height="4.305" fill="#141414"/>
<rect x="389.35" y="338.85" width="4.305" height="4.305" fill="#141414"/>
<rect x="375.85" y="340.35" width="4.305" height="4.305" fill="#141414"/>
<rect x="379.85" y="341.85" width="4.305" height="4.305" fill="#141414"/>
<rect x="383.85" y="340.85" width="4.305" height="4.305" fill="#141414"/>
<rect x="387.85" y="342.35" width="4.305" height="4.305" fill="#141414"/>
<rect x="373.65" y="349.15" width="4.305" height="4.305" fill="#141414"/>
<rect x="389.55" y="350.85" width="4.305" height="4.305" fill="#141414"/>
<rect x="377.85" y="352.55" width="4.305" height="4.305" fill="#141414"/>
<rect x="382.85" y="353.65" width="4.305" height="4.305" fill="#141414"/>
<rect x="374.55" y="357.55" width="4.305" height="4.305" fill="#141414"/>
<rect x="381.15" y="362.05" width="4.305" height="4.305" fill="#141414"/>
<rect x="387.85" y="362.05" width="4.305" height="4.305" fill="#141414"/>
<rect x="373.65" y="366.15" width="4.305" height="4.305" fill="#141414"/>
<rect x="378.65" y="368.65" width="4.305" height="4.305" fill="#141414"/>
<rect x="389.55" y="368.65" width="4.305" height="4.305" fill="#141414"/>
<rect x="382.85" y="372.85" width="4.305" height="4.305" fill="#141414"/>
<rect x="376.15" y="376.15" width="4.305" height="4.305" fill="#141414"/>
<rect x="385.35" y="376.15" width="4.305" height="4.305" fill="#141414"/>
<rect x="375.35" y="378.65" width="4.305" height="4.305" fill="#141414"/>
<rect x="387.05" y="377.85" width="4.305" height="4.305" fill="#141414"/>
<rect x="379.55" y="382.05" width="4.305" height="4.305" fill="#141414"/>
<rect x="382.85" y="380.35" width="4.305" height="4.305" fill="#141414"/>
<line x1="373" y1="346.3" x2="394.2" y2="346.3" stroke="#202020" stroke-width="1.3"/>
<polygon points="414.3,235.45 416.65,239.89 411.95,239.89" fill="#141414"/>
<polygon points="414.3,288.95 416.65,293.39 411.95,293.39" fill="#141414"/>
<polygon points="417.9,320.15 420.25,324.59 415.55,324.59" fill="#141414"/>
<polygon points="410.6,324.35 412.95,328.79 408.25,328.79" fill="#141414"/>
<polygon points="414,333.55 416.35,337.99 411.65,337.99" fill="#141414"/>
<polygon points="407.4,340.75 409.75,345.19 405.05,345.19" fill="#141414"/>
<polygon points="414,344.55 416.35,348.99 411.65,348.99" fill="#141414"/>
<polygon points="420.7,341.55 423.05,345.99 418.35,345.99" fill="#141414"/>
<polygon points="407.4,351.55 409.75,355.99 405.05,355.99" fill="#141414"/>
<polygon points="420.7,350.65 423.05,355.09 418.35,355.09" fill="#141414"/>
<polygon points="414,355.45 416.35,359.89 411.65,359.89" fill="#141414"/>
<polygon points="410.6,363.55 412.95,367.99 408.25,367.99" fill="#141414"/>
<polygon points="417.5,363.55 419.85,367.99 415.15,367.99" fill="#141414"/>
<polygon points="410.6,371.55 412.95,375.99 408.25,375.99" fill="#141414"/>
<polygon points="417.9,373.85 420.25,378.29 415.55,378.29" fill="#141414"/>
<polygon points="414,383.45 416.35,387.89 411.65,387.89" fill="#141414"/>
<line x1="403.6" y1="349.3" x2="425.1" y2="349.3" stroke="#202020" stroke-width="1.3"/>
<polygon points="442.07,328.04 446.93,328.04 444.5,332.9" fill="#a2a2a2"/>
<polygon points="442.07,336.04 446.93,336.04 444.5,340.9" fill="#a2a2a2"/>
<polygon points="442.07,346.14 446.93,346.14 444.5,351" fill="#a2a2a2"/>
<polygon points="438.27,359.54 443.13,359.54 440.7,364.4" fill="#a2a2a2"/>
<polygon points="445.87,357.64 450.73,357.64 448.3,362.5" fill="#a2a2a2"/>
<polygon points="435.97,364.64 440.83,364.64 438.4,369.5" fill="#a2a2a2"/>
<polygon points="448.77,362.74 453.63,362.74 451.2,367.6" fill="#a2a2a2"/>
<polygon points="441.17,369.04 446.03,369.04 443.6,373.9" fill="#a2a2a2"/>
<polygon points="434.47,374.74 439.33,374.74 436.9,379.6" fill="#a2a2a2"/>
<polygon points="443.97,375.74 448.83,375.74 446.4,380.6" fill="#a2a2a2"/>
<polygon points="449.67,373.84 454.53,373.84 452.1,378.7" fill="#a2a2a2"/>
<polygon points="439.77,380.44 444.63,380.44 442.2,385.3" fill="#a2a2a2"/>
<line x1="434" y1="370.2" x2="455" y2="370.2" stroke="#202020" stroke-width="1.3"/>
<polygon points="475.5,262.62 478.18,265.3 475.5,267.98 472.82,265.3" fill="#5a5a5a"/>
<polygon points="471.4,278.92 474.08,281.6 471.4,284.28 468.72,281.6" fill="#5a5a5a"/>
<polygon points="478.7,280.12 481.38,282.8 478.7,285.48 476.02,282.8" fill="#5a5a5a"/>
<polygon points="471.4,287.32 474.08,290 471.4,292.68 468.72,290" fill="#5a5a5a"/>
<polygon points="478.7,287.32 481.38,290 478.7,292.68 476.02,290" fill="#5a5a5a"/>
<polygon points="471.4,301.82 474.08,304.5 471.4,307.18 468.72,304.5" fill="#5a5a5a"/>
<polygon points="478.7,303.02 481.38,305.7 478.7,308.38 476.02,305.7" fill="#5a5a5a"/>
<polygon points="468.3,328.42 470.98,331.1 468.3,333.78 465.62,331.1" fill="#5a5a5a"/>
<polygon points="475.3,335.52 477.98,338.2 475.3,340.88 472.62,338.2" fill="#5a5a5a"/>
<polygon points="481.8,330.62 484.48,333.3 481.8,335.98 479.12,333.3" fill="#5a5a5a"/>
<line x1="464.2" y1="297.9" x2="485.1" y2="297.9" stroke="#555" stroke-width="1.4"/>
<line x1="413" y1="277.8" x2="476.3" y2="277.8" stroke="#111" stroke-width="2.3"/>
<text x="427.5" y="273" font-size="7.3" textLength="32.4" lengthAdjust="spacingAndGlyphs" fill="#1a1a1a">P=0.0024</text>
<line x1="381.5" y1="306.7" x2="471.4" y2="306.7" stroke="#111" stroke-width="2.3"/>
<text x="401.7" y="301.9" font-size="7.3" textLength="31.3" lengthAdjust="spacingAndGlyphs" fill="#1a1a1a">P&lt;0.0006</text>
<line x1="441.2" y1="321.2" x2="475.5" y2="321.2" stroke="#111" stroke-width="2.3"/>
<text x="444.3" y="316.3" font-size="7.3" textLength="30" lengthAdjust="spacingAndGlyphs" fill="#1a1a1a">P&lt;0.0001</text>
</svg>
</body></html>
